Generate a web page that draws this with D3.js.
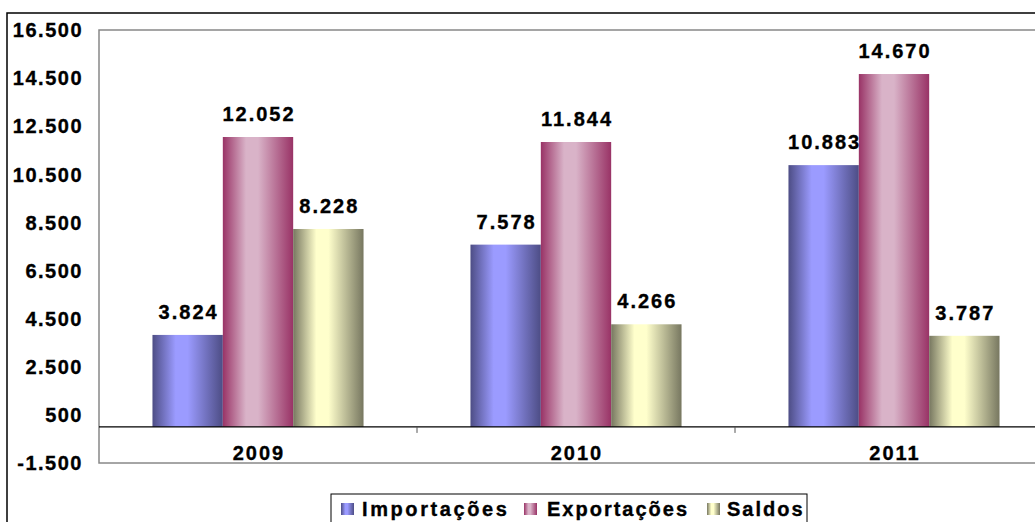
<!DOCTYPE html>
<html><head><meta charset="utf-8">
<script src="https://cdn.jsdelivr.net/npm/d3@7"></script>
<style>
body{margin:0;background:#fff;}
svg{display:block;font-family:"Liberation Sans",Arial,sans-serif;}
text{font-weight:bold;stroke:#000;stroke-width:0.35px;fill:#000;}
</style></head>
<body>
<svg id="chart" width="1035" height="522"></svg>
<script>
const categories = ["2009","2010","2011"];
const seriesNames = ["Importações","Exportações","Saldos"];
const importacoes = [3824, 7578, 10883];
const exportacoes = [12052, 11844, 14670];
const saldos = [8228, 4266, 3787];
const yTicks = [-1500, 500, 2500, 4500, 6500, 8500, 10500, 12500, 14500, 16500];

const seriesValues = [importacoes, exportacoes, saldos];
const gradColors = [
  {dark:"#4d4d85", light:"#9b9bff"},
  {dark:"#993366", light:"#d9b3c8"},
  {dark:"#777760", light:"#ffffcc"}
];

const svg = d3.select("#chart");
const loc = d3.formatLocale({decimal:",", thousands:".", grouping:[3], currency:["",""], minus:"-"});
const fmt = loc.format(",d");

const plot = {left:99, top:30, right:1053, bottom:463};
const y = d3.scaleLinear().domain([-1500,16500]).range([plot.bottom, plot.top]);
const x0 = d3.scaleBand().domain(categories).range([plot.left, plot.right]).paddingInner(0).paddingOuter(0);
const x1 = d3.scaleBand().domain(seriesNames).range([0, x0.bandwidth()]).paddingInner(0).paddingOuter(0.76);

const defs = svg.append("defs");
gradColors.forEach((c,i)=>{
  const g = defs.append("linearGradient").attr("id","g"+i).attr("x1","0%").attr("x2","100%").attr("y1","0%").attr("y2","0%");
  g.append("stop").attr("offset","0%").attr("stop-color",c.dark);
  g.append("stop").attr("offset","33%").attr("stop-color",c.light);
  g.append("stop").attr("offset","50%").attr("stop-color",c.light);
  g.append("stop").attr("offset","100%").attr("stop-color",c.dark);
});

// outer chart border
svg.append("rect").attr("x",7).attr("y",13).attr("width",1100).attr("height",600)
  .attr("fill","none").attr("stroke","#000").attr("stroke-width",1.5);

// plot area border
svg.append("rect").attr("x",plot.left).attr("y",plot.top).attr("width",plot.right-plot.left).attr("height",plot.bottom-plot.top)
  .attr("fill","none").attr("stroke","#888").attr("stroke-width",1.5);

// y labels
svg.append("g").selectAll("text").data(yTicks).join("text")
  .attr("x",83).attr("y",d=>y(d)).attr("dy","0.36em").attr("text-anchor","end")
  .attr("font-size",20).attr("letter-spacing",1.5).text(d=>fmt(d));

// bars
const data = [];
categories.forEach((c,ci)=>seriesNames.forEach((s,si)=>data.push({c, s, si, v:seriesValues[si][ci]})));
svg.append("g").selectAll("rect").data(data).join("rect")
  .attr("x",d=>x0(d.c)+x1(d.s)).attr("width",x1.bandwidth())
  .attr("y",d=>y(Math.max(0,d.v))).attr("height",d=>Math.abs(y(d.v)-y(0)))
  .attr("fill",d=>"url(#g"+d.si+")");

// value labels
svg.append("g").selectAll("text").data(data).join("text")
  .attr("x",d=>x0(d.c)+x1(d.s)+x1.bandwidth()/2+1).attr("y",d=>y(d.v)-16)
  .attr("text-anchor","middle").attr("font-size",20).attr("letter-spacing",2)
  .text(d=>fmt(d.v));

// zero axis line
svg.append("line").attr("x1",plot.left).attr("x2",plot.right).attr("y1",y(0)).attr("y2",y(0))
  .attr("stroke","#000").attr("stroke-width",1.3);
// category separator ticks
svg.append("g").selectAll("line").data(categories.slice(1)).join("line")
  .attr("x1",d=>x0(d)).attr("x2",d=>x0(d)).attr("y1",y(0)).attr("y2",y(0)+6)
  .attr("stroke","#555").attr("stroke-width",1);

// category labels
svg.append("g").selectAll("text").data(categories).join("text")
  .attr("x",d=>x0(d)+x0.bandwidth()/2+1).attr("y",460).attr("text-anchor","middle")
  .attr("font-size",20).attr("letter-spacing",2).text(d=>d);

// legend
const lg = svg.append("g");
lg.append("rect").attr("x",331).attr("y",494).attr("width",476).attr("height",40)
  .attr("fill","#fff").attr("stroke","#000").attr("stroke-width",1);
const legendPos = [{m:341, t:362, ls:2.6}, {m:524, t:547, ls:2}, {m:707, t:727, ls:2}];
seriesNames.forEach((s,i)=>{
  lg.append("rect").attr("x",legendPos[i].m).attr("y",503).attr("width",13).attr("height",12)
    .attr("fill","url(#g"+i+")");
  lg.append("text").attr("x",legendPos[i].t).attr("y",516).attr("font-size",20)
    .attr("letter-spacing",legendPos[i].ls).text(s);
});
</script>
</body></html>
